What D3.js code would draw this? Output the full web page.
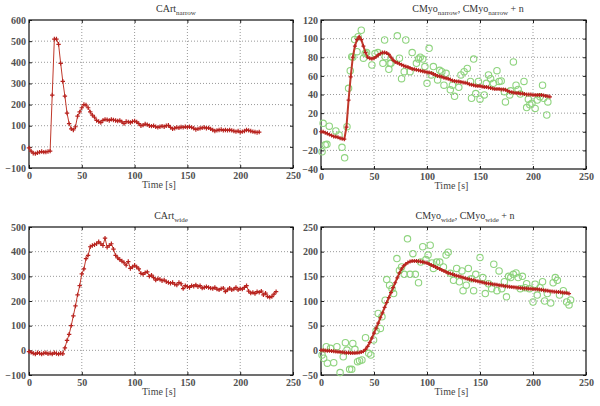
<!DOCTYPE html>
<html><head><meta charset="utf-8">
<script src="https://cdn.jsdelivr.net/npm/d3@7"></script>
<style>
html,body{margin:0;padding:0;background:#fff;}
svg{display:block;}
text{font-family:"Liberation Serif","DejaVu Serif",serif;}
</style></head>
<body>
<svg id="chart" width="600" height="406"></svg>
<script>
// ---------- DATA ----------
const timeStep = 2; // s between samples of the model curves
const xTicks = [0, 50, 100, 150, 200, 250];

// CArt narrow (samples every 2 s from t = 0)
const cartNarrow = [-5,-20,-30,-32,-28,-25,-22,-25,-24,-22,-20,245,510,510,485,395,310,240,160,110,
  85,80,95,145,165,185,200,198,185,165,150,140,125,120,115,125,130,128,125,130,
  127,125,122,125,118,110,120,118,115,120,122,118,110,100,103,108,105,100,98,100,
  95,92,95,98,95,100,102,92,85,88,92,90,94,92,95,93,95,92,88,82,
  85,88,90,92,88,90,85,80,75,78,80,82,78,80,78,80,78,75,72,75,
  70,72,75,80,78,75,72,70,68,70];
const cartNarrowTicks = [-100, 0, 100, 200, 300, 400, 500, 600];

// CMyo narrow model (samples every 2 s from t = 0)
const cmyoNarrow = [0,0,-1,-2,-3,-4,-5,-5.5,-6,-7,-7.5,-8,5,34,59,80,92,99,102,99,
  92,85,80,79,78.5,79,80.5,82.5,84,85,85,84.5,83,80,77,75,74,73,72,71,
  70,69.5,68.5,67.5,67,66.5,66,65.5,65,64.5,64,63.5,63,62,61,60,59.5,59,58,57.5,
  57,56,55,54.5,54,54,53.5,53,52.5,52,51,50.5,50,49.5,49,49,48.5,48,48,47.5,
  47,46.5,46,46,46,45.5,45.5,45,44,43,42.5,42,41.5,41.5,41,41,40.5,40,40,40,
  39.5,39.5,39.5,39.5,39.5,39,38.5,38,37.5];
// CMyo narrow + noise: [t, value]
const cmyoNarrowNoisy = [[1,-21.5],[2,9],[4,-14],[5.6,-13.5],[7.8,6],[14,0.8],[17,-3.5],[19.8,-16.7],[22.3,-28],[24.5,5.4],
  [26,46.6],[27.6,65.6],[29,80.6],[30,80],[31.7,99],[34,86],[35,102],[38,109],[40,79],[41.7,84],
  [43,85],[48,71.7],[51,84],[53.7,85],[58.4,73.5],[60,98.5],[60.6,80.6],[64,67],[65,73.5],[66,73.5],
  [72,103],[74,79],[76,57],[78.5,64.5],[80,98.5],[84,64.5],[86,85],[90,73.5],[92,78],[93.6,80],
  [96,78],[98,70],[100,52],[102,89.6],[104,61],[106,70],[110,55.6],[112,66],[114,64.5],[116,50],
  [118,62.7],[122,45],[124,50],[126,38],[130,47.7],[132,61],[135,64.5],[138,68],[141,54],[142,36],
  [144,78],[146,41],[148.5,54],[150,35],[154,39.5],[156,52],[158,61],[160,57],[162.6,52],[166,65.6],
  [168,54],[170,54.5],[173,43],[174,32],[178,39.5],[179,44],[181.5,75],[184,50],[186,45.5],[188,40.5],
  [191.5,54],[194,26],[195.6,35],[197,29],[199,30.5],[202,25],[204,34],[206.6,37.7],[209,50],[210,36],
  [213,18],[214,32]];
const cmyoNarrowTicks = [-40, -20, 0, 20, 40, 60, 80, 100, 120];

// CArt wide (samples every 2 s from t = 0)
const cartWide = [-5,-8,-12,-15,-10,-12,-15,-12,-10,-14,-12,-15,-10,-13,-15,-12,-14,10,40,65,
  100,140,180,225,262,310,330,372,385,420,425,428,432,440,432,425,455,418,425,432,
  410,385,375,368,362,355,345,360,332,338,345,338,330,312,308,315,318,300,305,295,
  285,290,288,282,285,278,275,272,275,268,265,275,270,250,262,258,255,262,260,265,
  258,262,252,255,258,255,252,250,255,248,245,250,252,238,245,252,245,248,255,245,
  250,248,255,262,240,232,235,230,238,235,240,225,232,218,215,218,228,238];
const cartWideTicks = [-100, 0, 100, 200, 300, 400, 500];

// CMyo wide model (samples every 2 s from t = 0)
const cmyoWide = [0,0,-0.5,-1,-1,-1.5,-2,-2.5,-3,-3.5,-4,-4.5,-5,-5,-5.5,-5.5,-5.5,-5,-4.5,-3.5,
  -2,2,8,16,25,35,45,55,66,76,87,97,107,117,127,137,147,157,165,171,
  175,178,180,181,181,181,180.5,180,179,178,177,175,173,171,169,167,165,163,161,159,
  157,155.5,154,152.5,151,150,149,147.5,146,145,144,143,142,141,140,139,138,137,136,135.5,
  135,134,133.5,133,132,131.5,131,130,129.5,129,128.5,128,127.5,127,126.5,126,125.5,125.5,125,125,
  124.5,124,124,123.5,123,122,121.5,121,120,119.5,119,118.5,118,117.5,117,116.5,116,115];
// CMyo wide + noise: [t, value]
const cmyoWideNoisy = [[1,-9.5],[2.5,-16],[5,7.4],[6,-26],[9,4],[12,-25],[15,7.4],[18,-45],[21,-13],[23,15.5],
  [24.5,0.6],[27,-38.5],[29,-38.5],[30,14],[32,2],[34.5,-23],[36.4,-21],[38.6,-19.6],[42,25.6],[45,-6],
  [47,-9.5],[49.6,21],[52,39.7],[54,74.8],[56,44.4],[57.5,68],[60.6,101.7],[62,143.5],[64.7,132],[67,125],
  [68.5,115],[71.6,186],[74,162],[76,169],[78.5,154],[81.6,226],[84,154],[86.7,196],[89,154],[92,137],
  [94,179],[96,210],[99,184],[101,193],[103,213],[104.6,177],[106,166],[109,179],[112,179],[115.5,169],
  [118,193],[120,199],[122,156],[125,142],[128,166],[130.6,139],[133,161],[134,121],[137,132],[139,166],
  [142,145],[144,121],[146,154],[150,188],[152.6,147.5],[155,115],[158,135],[161,125],[163,174.5],[166,121],
  [168,161],[170.5,125],[173,139],[175,108.5],[177,150],[179,147.5],[181.5,154],[184,157],[186,147.5],[188,125],
  [190,150],[192.5,127],[194,135],[196.6,125],[200,98],[202,134],[204,112],[206.6,127],[209,139],[211,100],
  [213.5,115],[216.7,96],[219,137],[221,147.5],[223,142],[225,112],[228.6,121],[231.7,98],[234,92],[235.5,102]];
const cmyoWideTicks = [-50, 0, 50, 100, 150, 200, 250];

// ---------- DRAWING ----------
const svg = d3.select("#chart");
const RED = "#b8231f", RED_LINE = "#c0392b", GREEN = "#8fd47f";

function panel(cfg) {
  const g = svg.append("g");
  const x = d3.scaleLinear().domain([0, 250]).range([cfg.left, cfg.right]);
  const y = d3.scaleLinear().domain([cfg.yTicks[0], cfg.yTicks[cfg.yTicks.length-1]]).range([cfg.bottom, cfg.top]);

  // grid
  g.append("g").selectAll("line").data(xTicks.slice(1, -1)).join("line")
    .attr("x1", d => x(d)).attr("x2", d => x(d)).attr("y1", cfg.top).attr("y2", cfg.bottom)
    .attr("stroke", "#999").attr("stroke-width", 1).attr("stroke-dasharray", "1,2");
  g.append("g").selectAll("line").data(cfg.yTicks.slice(1, -1)).join("line")
    .attr("x1", cfg.left).attr("x2", cfg.right).attr("y1", d => y(d)).attr("y2", d => y(d))
    .attr("stroke", "#999").attr("stroke-width", 1).attr("stroke-dasharray", "1,2");

  // axes (ticks inward)
  const ax = g.append("g").attr("transform", `translate(0,${cfg.bottom})`)
    .call(d3.axisBottom(x).tickValues(xTicks).tickSize(-3).tickPadding(4).tickFormat(d3.format("d")));
  const ay = g.append("g").attr("transform", `translate(${cfg.left},0)`)
    .call(d3.axisLeft(y).tickValues(cfg.yTicks).tickSize(-3).tickPadding(3).tickFormat(d3.format("d")));
  const axt = g.append("g").attr("transform", `translate(0,${cfg.top})`)
    .call(d3.axisTop(x).tickValues(xTicks).tickSize(-3).tickFormat(""));
  const ayr = g.append("g").attr("transform", `translate(${cfg.right},0)`)
    .call(d3.axisRight(y).tickValues(cfg.yTicks).tickSize(-3).tickFormat(""));
  [ax, ay, axt, ayr].forEach(a => {
    a.attr("font-family", null);
    a.select(".domain").remove();
    a.selectAll("line").attr("stroke", "#222");
    a.selectAll("text").attr("font-size", 10).attr("font-weight", "bold").attr("fill", "#505050");
  });
  g.append("rect").attr("x", cfg.left).attr("y", cfg.top)
    .attr("width", cfg.right - cfg.left).attr("height", cfg.bottom - cfg.top)
    .attr("fill", "none").attr("stroke", "#111").attr("stroke-width", 1.2);

  // noisy circles
  if (cfg.noisy) {
    g.append("g").selectAll("circle").data(cfg.noisy).join("circle")
      .attr("cx", d => x(d[0])).attr("cy", d => y(d[1])).attr("r", 3.2)
      .attr("fill", "none").attr("stroke", GREEN).attr("stroke-width", 1.1);
  }
  // model line + plus markers
  const pts = cfg.values.map((v, i) => [i * timeStep, v]);
  g.append("path").datum(pts)
    .attr("d", d3.line().x(d => x(d[0])).y(d => y(d[1])))
    .attr("fill", "none").attr("stroke", RED_LINE).attr("stroke-width", cfg.lineW);
  const s = cfg.mk;
  g.append("g").selectAll("path").data(pts).join("path")
    .attr("d", d => `M${x(d[0])-s},${y(d[1])}h${2*s}M${x(d[0])},${y(d[1])-s}v${2*s}`)
    .attr("stroke", RED).attr("stroke-width", 1.2);

  // title with subscripts
  const t = g.append("text").attr("x", cfg.titleX).attr("y", cfg.top - 8)
    .attr("text-anchor", "middle").attr("font-size", 10).attr("fill", "#333");
  cfg.title.forEach(p => {
    const ts = t.append("tspan").text(p.t);
    if (p.sub) ts.attr("font-size", 7).attr("dy", 3);
    else if (p.after) ts.attr("dy", -3);
  });
  // x label
  g.append("text").attr("x", (cfg.left + cfg.right) / 2 - 2).attr("y", cfg.bottom + 20)
    .attr("text-anchor", "middle").attr("font-size", 10).attr("fill", "#444").text("Time [s]");
}

panel({left: 29, right: 293, top: 20, bottom: 168, yTicks: cartNarrowTicks, values: cartNarrow,
  lineW: 1, mk: 2.2, titleX: 176,
  title: [{t: "CArt"}, {t: "narrow", sub: true}]});
panel({left: 321, right: 586, top: 20, bottom: 169, yTicks: cmyoNarrowTicks, values: cmyoNarrow,
  noisy: cmyoNarrowNoisy, lineW: 2, mk: 2, titleX: 468,
  title: [{t: "CMyo"}, {t: "narrow", sub: true}, {t: ", CMyo", after: true}, {t: "narrow", sub: true}, {t: " + n", after: true}]});
panel({left: 29, right: 293, top: 227, bottom: 375, yTicks: cartWideTicks, values: cartWide,
  lineW: 1, mk: 2.2, titleX: 171,
  title: [{t: "CArt"}, {t: "wide", sub: true}]});
panel({left: 321, right: 586, top: 227, bottom: 375, yTicks: cmyoWideTicks, values: cmyoWide,
  noisy: cmyoWideNoisy, lineW: 2, mk: 2, titleX: 465,
  title: [{t: "CMyo"}, {t: "wide", sub: true}, {t: ", CMyo", after: true}, {t: "wide", sub: true}, {t: " + n", after: true}]});
</script>
</body></html>
